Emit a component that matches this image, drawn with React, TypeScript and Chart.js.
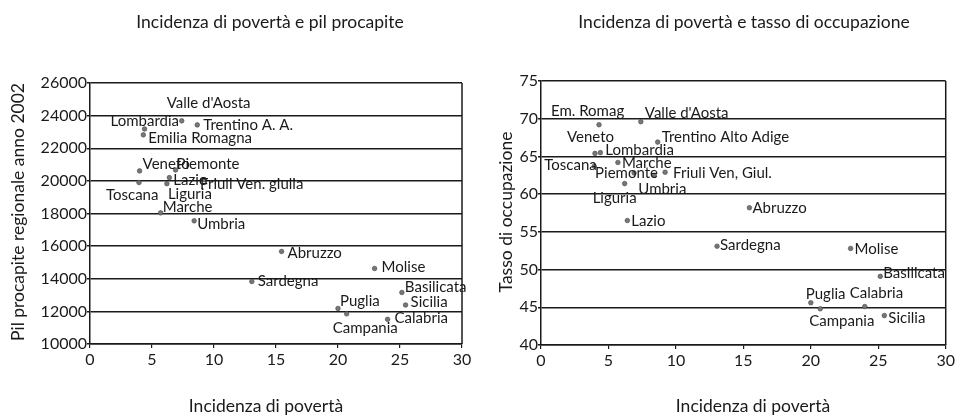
import React, { useEffect, useRef } from "react";
import { Chart, registerables } from "chart.js";

Chart.register(...registerables);

const FONT = "Lato, 'DejaVu Sans', sans-serif";
const INK = "#1a1a1a";

// Poverty incidence (x) shared by both panels
const regions = [
  "Valle d'Aosta", "Trentino", "Lombardia", "Emilia Romagna", "Veneto",
  "Piemonte", "Friuli", "Toscana", "Lazio", "Liguria", "Marche", "Umbria",
  "Abruzzo", "Molise", "Sardegna", "Basilicata", "Sicilia", "Puglia",
  "Campania", "Calabria",
];
const poverty = [7.4, 8.65, 4.4, 4.3, 4.0, 6.9, 9.2, 3.95, 6.4, 6.2, 5.7, 8.4, 15.45, 22.95, 13.05, 25.15, 25.45, 20.0, 20.7, 24.0];
const pilProcapite = [23680, 23430, 23180, 22820, 20610, 20670, 20080, 19900, 20200, 19830, 18040, 17550, 15675, 14630, 13830, 13160, 12390, 12180, 11850, 11510];
const tassoOccupazione = [69.6, 66.9, 65.5, 69.2, 65.4, 62.8, 62.9, 63.7, 56.5, 61.4, 64.2, 62.5, 58.2, 52.8, 53.1, 49.1, 43.9, 45.6, 44.8, 45.1];

const labelsPil = [
  "Valle d'Aosta", "Trentino A. A.", "Lombardia", "Emilia Romagna", "Veneto",
  "Piemonte", "Friuli Ven. giulia", "Toscana", "Lazio", "Liguria", "Marche", "Umbria",
  "Abruzzo", "Molise", "Sardegna", "Basilicata", "Sicilia", "Puglia",
  "Campania", "Calabria",
];
const labelsOcc = [
  "Valle d'Aosta", "Trentino Alto Adige", "Lombardia", "Em. Romag", "Veneto",
  "Piemonte", "Friuli Ven, Giul.", "Toscana", "Lazio", "Liguria", "Marche", "Umbria",
  "Abruzzo", "Molise", "Sardegna", "Basilicata", "Sicilia", "Puglia",
  "Campania", "Calabria",
];

// label placement offsets (pixels, relative to the marker)
const offsetsPil: [number, number][] = [
  [-15, -18], [6, 0], [-34, -8], [5, 3], [3, -7], [1, -6], [-4, 5], [-33, 13], [4, 3], [1, 11],
  [2, -6], [3, 3], [6, 2], [7, -1], [6, 0], [3, -5], [5, -3], [2, -7], [-14, 14], [7, -1],
];
const offsetsOcc: [number, number][] = [
  [4, -9], [4, -5], [5, -3], [-48, -14], [-28, -16], [-39, 0], [8, 1], [-50, -1], [4, 1], [-32, 15],
  [4, 1], [-16, 14], [3, 0], [4, 1], [3, -1], [3, -3], [4, 3], [-5, -9], [-11, 12], [-15, -13],
];

const xTicks = { min: 0, max: 30, step: 5 };
const pilTicks = { min: 10000, max: 26000, step: 2000 };
const occTicks = { min: 40, max: 75, step: 5 };

type PanelProps = {
  left: number;
  width: number;
  area: { l: number; r: number; t: number; b: number };
  title: string;
  titleX: number;
  xTitle: string;
  xTitleX: number;
  yTitle: string;
  yTitleX: number;
  yTitleY: number;
  yValues: number[];
  labels: string[];
  offsets: [number, number][];
  yRange: { min: number; max: number; step: number };
};

const H = 416;

function Panel(p: PanelProps) {
  const ref = useRef<HTMLCanvasElement | null>(null);
  useEffect(() => {
    if (!ref.current) return;
    const data = poverty.map((x, i) => ({ x, y: p.yValues[i] }));
    const decor = {
      id: "decor",
      afterDatasetsDraw(chart: any) {
        const ctx = chart.ctx;
        const ca = chart.chartArea;
        ctx.save();
        ctx.strokeStyle = INK;
        ctx.lineWidth = 1.5;
        ctx.beginPath();
        ctx.moveTo(ca.right, ca.top);
        ctx.lineTo(ca.right, ca.bottom);
        ctx.stroke();
        const meta = chart.getDatasetMeta(0);
        ctx.fillStyle = INK;
        ctx.font = `15px ${FONT}`;
        ctx.textAlign = "left";
        ctx.textBaseline = "middle";
        meta.data.forEach((el: any, i: number) => {
          const [dx, dy] = p.offsets[i];
          ctx.fillText(p.labels[i], el.x + dx, el.y + dy);
        });
        ctx.textAlign = "center";
        ctx.font = `17.5px ${FONT}`;
        ctx.fillText(p.title, p.titleX, 22);
        ctx.fillText(p.xTitle, p.xTitleX, 406);
        ctx.save();
        ctx.translate(p.yTitleX, p.yTitleY);
        ctx.rotate(-Math.PI / 2);
        ctx.fillText(p.yTitle, 0, 0);
        ctx.restore();
        ctx.restore();
      },
    };
    const chart = new Chart(ref.current, {
      type: "scatter",
      data: {
        datasets: [
          {
            data,
            backgroundColor: "#777",
            borderColor: "#444",
            borderWidth: 0.6,
            pointRadius: 2.3,
            pointHoverRadius: 2.3,
          },
        ],
      },
      options: {
        responsive: false,
        animation: false,
        events: [],
        layout: { padding: { top: p.area.t, right: p.width - p.area.r, left: 0, bottom: 0 } },
        plugins: { legend: { display: false }, tooltip: { enabled: false }, title: { display: false } },
        scales: {
          x: {
            type: "linear",
            min: xTicks.min,
            max: xTicks.max,
            afterFit(scale: any) {
              scale.height = H - p.area.b;
            },
            ticks: { stepSize: xTicks.step, color: INK, font: { family: FONT, size: 16 }, padding: 2 },
            grid: { drawOnChartArea: false, drawTicks: true, tickLength: 4, color: INK, lineWidth: 1.2 },
            border: { display: true, color: INK, width: 1.5 },
          },
          y: {
            type: "linear",
            min: p.yRange.min,
            max: p.yRange.max,
            afterFit(scale: any) {
              scale.width = p.area.l;
            },
            ticks: {
              stepSize: p.yRange.step,
              color: INK,
              font: { family: FONT, size: 16 },
              padding: 0,
              callback: (v: any) => String(v),
            },
            grid: { drawTicks: true, tickLength: 3, color: INK, lineWidth: 1.4 },
            border: { display: true, color: INK, width: 1.5 },
          },
        },
      },
      plugins: [decor],
    } as any);
    return () => chart.destroy();
  }, []);
  return (
    <canvas
      ref={ref}
      width={p.width}
      height={H}
      style={{ position: "absolute", left: p.left, top: 0, width: p.width, height: H }}
    />
  );
}

export default function App() {
  return (
    <div style={{ position: "fixed", left: 0, top: 0, width: 957, height: H, background: "#fff" }}>
      <Panel
        left={0}
        width={478}
        area={{ l: 90, r: 462, t: 83, b: 344 }}
        title="Incidenza di povertà e pil procapite"
        titleX={270}
        xTitle="Incidenza di povertà"
        xTitleX={266}
        yTitle="Pil procapite regionale anno 2002"
        yTitleX={18}
        yTitleY={212}
        yValues={pilProcapite}
        labels={labelsPil}
        offsets={offsetsPil}
        yRange={pilTicks}
      />
      <Panel
        left={478}
        width={479}
        area={{ l: 63, r: 468, t: 81, b: 345 }}
        title="Incidenza di povertà e tasso di occupazione"
        titleX={266}
        xTitle="Incidenza di povertà"
        xTitleX={275}
        yTitle="Tasso di occupazione"
        yTitleX={28}
        yTitleY={212}
        yValues={tassoOccupazione}
        labels={labelsOcc}
        offsets={offsetsOcc}
        yRange={occTicks}
      />
    </div>
  );
}
